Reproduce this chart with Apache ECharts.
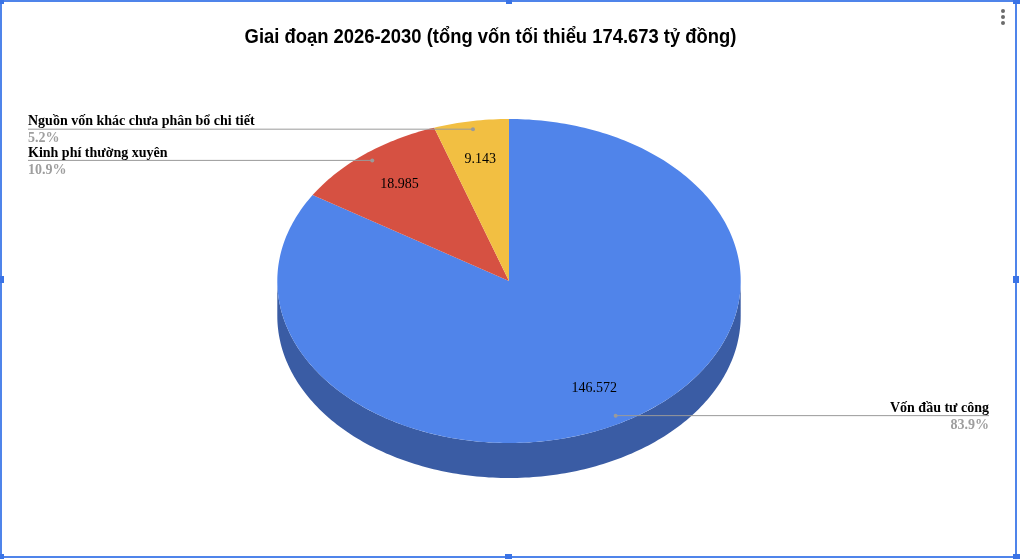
<!DOCTYPE html>
<html><head><meta charset="utf-8">
<script src="https://cdn.jsdelivr.net/npm/echarts@6/dist/echarts.min.js"></script>
<style>html,body{margin:0;padding:0;background:#fff}#c{width:1020px;height:559px}</style>
</head><body><div id="c"></div>
<script>
// ---- data ----
const categories = ['Vốn đầu tư công', 'Kinh phí thường xuyên', 'Nguồn vốn khác chưa phân bổ chi tiết'];
const values = [146.572, 18.985, 9.143];
const titleText = 'Giai đoạn 2026-2030 (tổng vốn tối thiểu 174.673 tỷ đồng)';

// ---- styles / layout ----
const topColors = ['#5084EA', '#D65142', '#F2BF42'];
const sideColors = ['#3A5CA4', '#963A2F', '#AA862F'];
const CX = 509, CY = 281, RX = 231.7, RY = 162, DEPTH = 35;
const LEFT_X = 28, RIGHT_X = 989;

const total = values.reduce((a, b) => a + b, 0);
const starts = []; let acc = 0;
values.forEach(v => { starts.push(acc / total * 360); acc += v; });
function pt(deg, f, dy) {
  const r = deg * Math.PI / 180;
  return [CX + RX * f * Math.sin(r), CY - RY * f * Math.cos(r) + (dy || 0)];
}
function arc(a, b, f, dy) {
  const pts = []; const n = Math.max(2, Math.ceil(Math.abs(b - a)));
  for (let i = 0; i <= n; i++) pts.push(pt(a + (b - a) * i / n, f, dy));
  return pts;
}
const seriesData = values.map((v, i) => ({ name: categories[i], value: v }));

const chart = echarts.init(document.getElementById('c'), null, { renderer: 'canvas' });
chart.setOption({
  backgroundColor: '#fff',
  animation: false,
  series: [
    { // side (extrusion)
      type: 'custom', coordinateSystem: 'none', z: 1, data: seriesData,
      renderItem: function (params, api) {
        const i = params.dataIndex;
        const a = starts[i], b = a + api.value(0) / total * 360;
        const lo = Math.max(a, 90), hi = Math.min(b, 270);
        if (hi <= lo) return null;
        const pts = arc(lo, hi, 1, 0).concat(arc(hi, lo, 1, DEPTH));
        return { type: 'polygon', shape: { points: pts }, style: { fill: sideColors[i] } };
      }
    },
    { // top faces + value labels
      type: 'custom', coordinateSystem: 'none', z: 2, data: seriesData,
      renderItem: function (params, api) {
        const i = params.dataIndex;
        const v = api.value(0);
        const a = starts[i], b = a + v / total * 360;
        const pts = [[CX, CY]].concat(arc(a, b, 1, 0));
        const m = pt((a + b) / 2, 0.76, 0);
        return { type: 'group', children: [
          { type: 'polygon', shape: { points: pts }, style: { fill: topColors[i] } },
          { type: 'text', z2: 10, style: { text: v.toFixed(3), x: m[0], y: m[1], align: 'center', verticalAlign: 'middle',
            fontFamily: 'Liberation Serif', fontSize: 14, fill: '#000' } }
        ] };
      }
    },
    { // leader lines + outside labels
      type: 'custom', coordinateSystem: 'none', z: 3, data: seriesData,
      renderItem: function (params, api) {
        const i = params.dataIndex;
        const v = api.value(0);
        const a = starts[i], b = a + v / total * 360, mid = (a + b) / 2;
        const d = pt(mid, 0.95, 0);
        const right = Math.sin(mid * Math.PI / 180) > 0;
        const ex = right ? RIGHT_X : LEFT_X;
        const pct = (v / total * 100).toFixed(1) + '%';
        return { type: 'group', children: [
          { type: 'line', shape: { x1: d[0], y1: d[1], x2: ex, y2: d[1] }, style: { stroke: '#9a9a9a', lineWidth: 1 } },
          { type: 'circle', shape: { cx: d[0], cy: d[1], r: 2 }, style: { fill: '#9a9a9a' } },
          { type: 'text', style: { text: categories[i], x: ex, y: d[1] - 7.5, align: right ? 'right' : 'left', verticalAlign: 'middle',
            fontFamily: 'Liberation Serif', fontWeight: 'bold', fontSize: 14, fill: '#000' } },
          { type: 'text', style: { text: pct, x: ex, y: d[1] + 9.5, align: right ? 'right' : 'left', verticalAlign: 'middle',
            fontFamily: 'Liberation Serif', fontWeight: 'bold', fontSize: 14, fill: '#9e9e9e' } }
        ] };
      }
    }
  ],
  graphic: [
    { type: 'text', x: 490.5, y: 37, scaleX: 0.92, z: 50,
      style: { text: titleText, align: 'center', verticalAlign: 'middle',
        fontFamily: 'Liberation Sans', fontSize: 20, fontWeight: 'bold', fill: '#000' } },
    { type: 'rect', shape: { x: 0, y: 0, width: 1017, height: 2 }, style: { fill: '#4F84EA' }, z: 100 },
    { type: 'rect', shape: { x: 0, y: 0, width: 2, height: 559 }, style: { fill: '#4F84EA' }, z: 100 },
    { type: 'rect', shape: { x: 1015, y: 0, width: 2, height: 559 }, style: { fill: '#4F84EA' }, z: 100 },
    { type: 'rect', shape: { x: 0, y: 556, width: 1017, height: 2 }, style: { fill: '#4F84EA' }, z: 100 },
    { type: 'rect', shape: { x: 0, y: 0, width: 4, height: 4 }, style: { fill: '#3B74E6' }, z: 101 },
    { type: 'rect', shape: { x: 506, y: 0, width: 6, height: 4 }, style: { fill: '#3B74E6' }, z: 101 },
    { type: 'rect', shape: { x: 1013, y: 0, width: 7, height: 4 }, style: { fill: '#3B74E6' }, z: 101 },
    { type: 'rect', shape: { x: 0, y: 276, width: 4, height: 7 }, style: { fill: '#3B74E6' }, z: 101 },
    { type: 'rect', shape: { x: 1013, y: 276, width: 6, height: 7 }, style: { fill: '#3B74E6' }, z: 101 },
    { type: 'rect', shape: { x: 0, y: 554, width: 4, height: 5 }, style: { fill: '#3B74E6' }, z: 101 },
    { type: 'rect', shape: { x: 505, y: 554, width: 7, height: 5 }, style: { fill: '#3B74E6' }, z: 101 },
    { type: 'rect', shape: { x: 1013, y: 554, width: 7, height: 5 }, style: { fill: '#3B74E6' }, z: 101 },
    { type: 'circle', shape: { cx: 1003, cy: 11, r: 2 }, style: { fill: '#6b6b6b' }, z: 100 },
    { type: 'circle', shape: { cx: 1003, cy: 17, r: 2 }, style: { fill: '#6b6b6b' }, z: 100 },
    { type: 'circle', shape: { cx: 1003, cy: 23, r: 2 }, style: { fill: '#6b6b6b' }, z: 100 }
  ]
});
</script></body></html>
